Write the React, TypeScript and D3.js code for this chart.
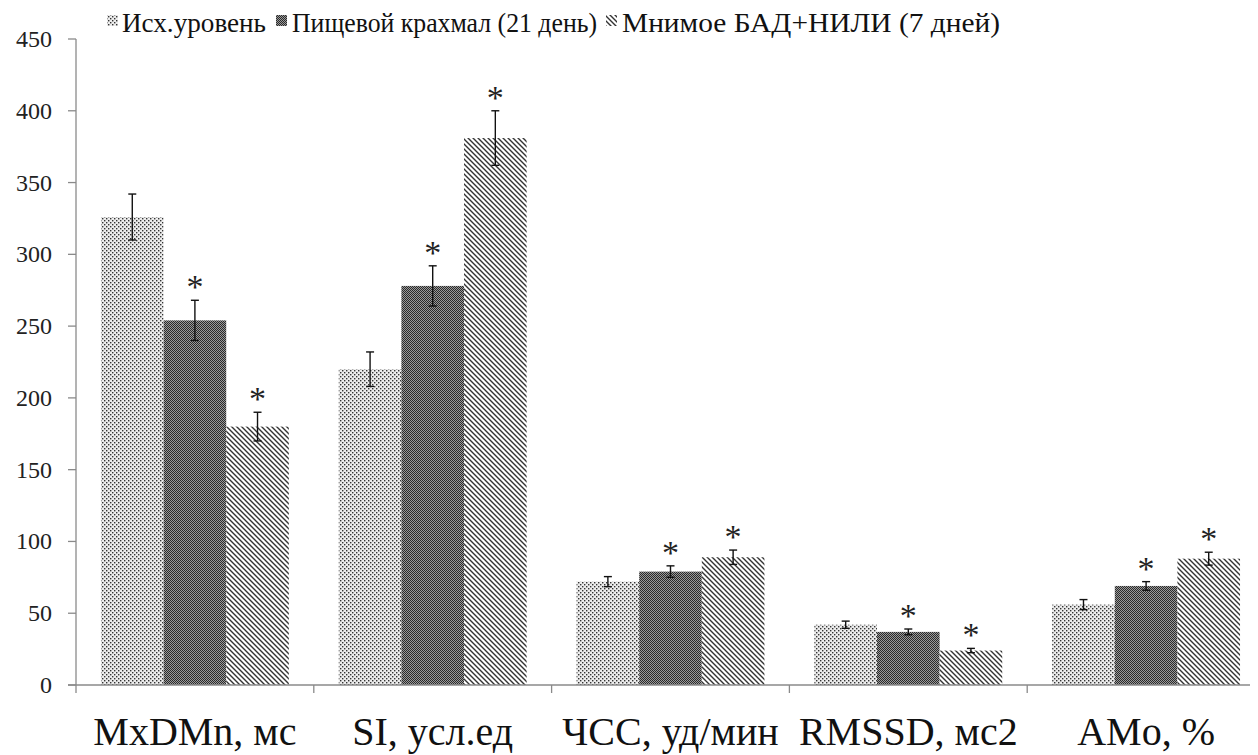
import React from "react";
import * as d3 from "d3";

const categories = ["MxDMn, мс", "SI, усл.ед", "ЧСС, уд/мин", "RMSSD, мс2", "AMo, %"];
const seriesNames = ["Исх.уровень", "Пищевой крахмал (21 день)", "Мнимое БАД+НИЛИ (7 дней)"];
const baseline = [326, 220, 72, 42, 56];
const baselineErr = [16, 12, 3.5, 2.5, 3.5];
const starch = [254, 278, 79, 37, 69];
const starchErr = [14, 14, 4, 2, 3];
const sham = [180, 381, 89, 24, 88];
const shamErr = [10, 19, 5, 1.5, 4.5];
const starchSig = [true, true, true, true, true];
const shamSig = [true, true, true, true, true];
const yTicks = [0, 50, 100, 150, 200, 250, 300, 350, 400, 450];

const W = 1258;
const H = 755;
const left = 76;
const right = 1265;
const top = 39;
const bottom = 685;

export default function App() {
  const x0 = d3.scaleBand<string>().domain(categories).range([left, right]).paddingInner(0.21).paddingOuter(0.105);
  const x1 = d3.scaleBand<number>().domain([0, 1, 2]).range([0, x0.bandwidth()]);
  const y = d3.scaleLinear().domain([0, 450]).range([bottom, top]);
  const values = [baseline, starch, sham];
  const errs = [baselineErr, starchErr, shamErr];
  const sigs = [null, starchSig, shamSig];
  const fills = ["url(#pDots)", "url(#pCheck)", "url(#pDiag)"];
  const step = (right - left) / categories.length;
  const ff = { fontFamily: "'Liberation Serif', 'Times New Roman', serif" };

  const legendItems = [
    { sq: 107, tx: 122, len: 144 },
    { sq: 276, tx: 292, len: 305 },
    { sq: 606, tx: 622, len: 378 },
  ];

  return (
    <div style={{ margin: "-8px 0 0 -8px" }}>
      <svg width={W} height={H}>
        <defs>
          <pattern id="pDots" width="4" height="4" patternUnits="userSpaceOnUse">
            <rect width="4" height="4" fill="#ececec" />
            <rect x="0" y="0" width="1.4" height="1.4" fill="#333" />
            <rect x="2" y="2" width="1.4" height="1.4" fill="#333" />
          </pattern>
          <pattern id="pCheck" width="2" height="2" patternUnits="userSpaceOnUse">
            <rect width="2" height="2" fill="#9a9a9a" />
            <rect x="0" y="0" width="1" height="1" fill="#2a2a2a" />
            <rect x="1" y="1" width="1" height="1" fill="#2a2a2a" />
          </pattern>
          <pattern id="pDiag" width="5" height="5" patternUnits="userSpaceOnUse">
            <rect width="5" height="5" fill="#fff" />
            <path d="M-1,-1 L6,6 M-1,4 L1,6 M4,-1 L6,1" stroke="#333" strokeWidth="1.4" />
          </pattern>
        </defs>

        {/* legend */}
        {seriesNames.map((name, i) => (
          <g key={name}>
            <rect x={legendItems[i].sq} y={15} width={11} height={11} fill={fills[i]} />
            <text
              x={legendItems[i].tx}
              y={32}
              fontSize={27}
              fill="#111"
              style={ff}
              textLength={legendItems[i].len}
              lengthAdjust="spacingAndGlyphs"
            >
              {name}
            </text>
          </g>
        ))}

        {/* y axis */}
        <line x1={left} x2={left} y1={top} y2={bottom} stroke="#8a8a8a" strokeWidth={1.3} />
        {yTicks.map((t) => (
          <g key={t}>
            <line x1={left - 8} x2={left} y1={y(t)} y2={y(t)} stroke="#8a8a8a" strokeWidth={1.3} />
            <text x={52} y={y(t) + 8} fontSize={24} textAnchor="end" fill="#222" style={ff}>
              {String(t)}
            </text>
          </g>
        ))}

        {/* bars */}
        {categories.map((c, ci) => (
          <g key={c}>
            {values.map((vals, si) => {
              const bx = (x0(c) as number) + (x1(si) as number);
              const bw = x1.bandwidth();
              const cx = bx + bw / 2;
              const v = vals[ci];
              const e = errs[si][ci];
              const sig = sigs[si];
              return (
                <g key={si}>
                  <rect x={bx} y={y(v)} width={bw} height={y(0) - y(v)} fill={fills[si]} />
                  <line x1={cx} x2={cx} y1={y(v + e)} y2={y(v - e)} stroke="#111" strokeWidth={1.4} />
                  <line x1={cx - 4} x2={cx + 4} y1={y(v + e)} y2={y(v + e)} stroke="#111" strokeWidth={1.4} />
                  <line x1={cx - 4} x2={cx + 4} y1={y(v - e)} y2={y(v - e)} stroke="#111" strokeWidth={1.4} />
                  {sig && sig[ci] ? (
                    <text x={cx} y={y(v + e) - 2} fontSize={34} textAnchor="middle" fill="#222" style={ff}>
                      *
                    </text>
                  ) : null}
                </g>
              );
            })}
          </g>
        ))}

        {/* x axis */}
        <line x1={left - 8} x2={right} y1={bottom} y2={bottom} stroke="#8a8a8a" strokeWidth={1.3} />
        {d3.range(categories.length + 1).map((i) => (
          <line key={i} x1={left + i * step} x2={left + i * step} y1={bottom} y2={bottom + 8} stroke="#8a8a8a" strokeWidth={1.3} />
        ))}
        {categories.map((c) => (
          <text key={c} x={(x0(c) as number) + x0.bandwidth() / 2} y={745} fontSize={40} textAnchor="middle" fill="#111" style={ff}>
            {c}
          </text>
        ))}
      </svg>
    </div>
  );
}
